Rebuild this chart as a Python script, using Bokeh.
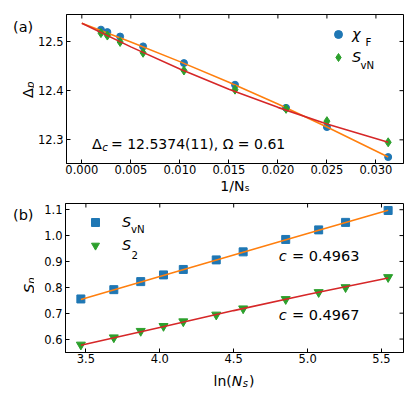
import numpy as np
from bokeh.plotting import figure
from bokeh.models import Range1d, FixedTicker, Label, Legend, LegendItem
from bokeh.layouts import column, row
from bokeh.embed import file_html
from bokeh.resources import INLINE

BLUE = "#1f77b4"
ORANGE = "#ff7f0e"
GREEN = "#2ca02c"
RED = "#d62728"
FONT = "DejaVu Sans"

# ---------------- panel (a) data ----------------
a_inv_Ns = [0.001953, 0.002604, 0.003906, 0.00625, 0.010417, 0.015625, 0.020833, 0.025, 0.03125]
a_chiF = [12.524, 12.519, 12.510, 12.490, 12.456, 12.412, 12.365, 12.326, 12.265]
a_SvN = [12.517, 12.512, 12.499, 12.477, 12.441, 12.402, 12.363, 12.338, 12.295]
a_fit_x = [0.0, 0.005, 0.01, 0.015, 0.02, 0.025, 0.03125]
a_fit_chiF = [12.537, 12.499, 12.459, 12.417, 12.373, 12.326, 12.265]
a_fit_SvN = [12.537, 12.489, 12.444, 12.403, 12.366, 12.332, 12.295]
a_xticks = [0.0, 0.005, 0.01, 0.015, 0.02, 0.025, 0.03]
a_xtick_labels = ["0.000", "0.005", "0.010", "0.015", "0.020", "0.025", "0.030"]
a_yticks = [12.3, 12.4, 12.5]
a_ytick_labels = ["12.3", "12.4", "12.5"]

# ---------------- panel (b) data ----------------
b_lnNs = [3.466, 3.689, 3.871, 4.025, 4.159, 4.382, 4.564, 4.852, 5.075, 5.257, 5.545]
b_SvN = [0.755, 0.791, 0.822, 0.848, 0.869, 0.906, 0.937, 0.985, 1.022, 1.051, 1.097]
b_S2 = [0.578, 0.606, 0.631, 0.650, 0.668, 0.694, 0.718, 0.754, 0.781, 0.800, 0.839]
b_fit_x = [3.466, 4.0, 4.5, 5.0, 5.545]
b_fit_SvN = [0.753, 0.842, 0.925, 1.008, 1.098]
b_fit_S2 = [0.576, 0.645, 0.710, 0.772, 0.836]
b_xticks = [3.5, 4.0, 4.5, 5.0, 5.5]
b_xtick_labels = ["3.5", "4.0", "4.5", "5.0", "5.5"]
b_yticks = [0.6, 0.7, 0.8, 0.9, 1.0, 1.1]
b_ytick_labels = ["0.6", "0.7", "0.8", "0.9", "1.0", "1.1"]

# axis ranges
A_XR = (-0.0015625, 0.0328125)
A_YR = (12.2519, 12.5548)
B_XR = (3.362, 5.649)
B_YR = (0.548, 1.124)

ROT = np.pi / 2
LEFT_W = 34
TOTAL_W = 410


def make_fig(xr, yr, height, top, bottom, xticks, xlabels, yticks, ylabels):
    p = figure(width=TOTAL_W - LEFT_W, height=height, x_range=Range1d(*xr), y_range=Range1d(*yr),
               output_backend="svg", toolbar_location=None, title_location=None,
               min_border_left=65 - LEFT_W, min_border_right=7,
               min_border_top=top, min_border_bottom=bottom)
    p.xgrid.visible = False
    p.ygrid.visible = False
    p.outline_line_color = "black"
    p.outline_line_alpha = 1.0
    p.outline_line_width = 1
    p.background_fill_color = "white"
    p.border_fill_color = "white"
    for ax, ticks, labels in [(p.xaxis[0], xticks, xlabels), (p.yaxis[0], yticks, ylabels)]:
        ax.ticker = FixedTicker(ticks=ticks)
        ax.major_label_overrides = dict(zip(ticks, labels))
        ax.major_tick_in = 4
        ax.major_tick_out = 0
        ax.minor_tick_line_color = None
        ax.major_label_text_font = FONT
        ax.major_label_text_font_size = "11.5px"
        ax.major_label_text_color = "black"
        ax.axis_line_color = "black"
        ax.major_tick_line_color = "black"
    p.xaxis.major_label_standoff = 1
    p.yaxis.major_label_standoff = 3
    # inward ticks on the top and right edges of the frame
    p.ray(x=xticks, y=[yr[1]] * len(xticks), length=4, angle=-np.pi / 2,
          length_units="screen", line_color="black", line_width=1)
    p.ray(x=[xr[1]] * len(yticks), y=yticks, length=4, angle=np.pi,
          length_units="screen", line_color="black", line_width=1)
    return p


def make_strip(width, height, top=0, bottom=0):
    s = figure(width=width, height=height, x_range=Range1d(0, 1), y_range=Range1d(0, 1),
               output_backend="svg", toolbar_location=None, title_location=None,
               min_border=0, min_border_left=0, min_border_right=0,
               min_border_top=top, min_border_bottom=bottom,
               x_axis_location=None, y_axis_location=None)
    s.xgrid.visible = False
    s.ygrid.visible = False
    s.outline_line_color = None
    s.background_fill_color = "white"
    s.border_fill_color = "white"
    return s


def add_texts(p, left, bottom, specs):
    # specs give page-pixel positions; (left, bottom) is the page position of the frame's corner
    for spec in specs:
        text, px, py, size, style = spec[:5]
        angle = spec[5] if len(spec) > 5 else 0.0
        p.add_layout(Label(x=px - left, y=bottom - py, x_units="screen", y_units="screen",
                           text=text, text_font=FONT, text_font_size=f"{size}px",
                           text_font_style=style, text_color="black", angle=angle,
                           text_align="left", text_baseline="alphabetic"))


def make_legend(items, loc, standoff):
    return Legend(items=items, location=loc, padding=0, margin=0, spacing=3,
                  glyph_width=20, glyph_height=20, label_height=20, label_standoff=standoff,
                  label_text_font=FONT, label_text_font_size="14.5px",
                  label_text_font_style="italic", label_text_color="black",
                  background_fill_alpha=0, border_line_alpha=0)


# ---------------- panel (a): page rows 0..196, frame 14..163 ----------------
A_H, A_T, A_B = 196, 14, 33
pa = make_fig(A_XR, A_YR, A_H, A_T, A_B, a_xticks, a_xtick_labels, a_yticks, a_ytick_labels)
pa.xaxis.axis_label = "1/Nₛ"
pa.xaxis.axis_label_text_font = FONT
pa.xaxis.axis_label_text_font_size = "14px"
pa.xaxis.axis_label_text_font_style = "normal"
pa.xaxis.axis_label_text_color = "black"
pa.xaxis.axis_label_standoff = 1
ra1 = pa.scatter(a_inv_Ns, a_chiF, marker="circle", size=7, color=BLUE)
pa.line(a_fit_x, a_fit_chiF, color=ORANGE, line_width=1.6)
ra2 = pa.scatter(a_inv_Ns, a_SvN, marker="diamond", size=9, color=GREEN)
pa.line(a_fit_x, a_fit_SvN, color=RED, line_width=1.6)
pa.add_layout(make_legend([LegendItem(label="χ", renderers=[ra1]),
                           LegendItem(label="S", renderers=[ra2])], (262, 96), 4))
add_texts(pa, 65, 163, [
    ("Δ", 90.5, 143.5, 14.5, "normal"),
    ("c", 100.8, 146.5, 10.2, "italic"),
    ("= 12.5374(11), Ω = 0.61", 109.5, 143.5, 14, "normal"),
    ("F", 364, 42, 10.2, "normal"),
    ("vN", 359, 65, 10.2, "normal"),
])
left_a = make_strip(LEFT_W, A_H, A_T, A_B)
add_texts(left_a, 0, 163, [
    ("(a)", 12.5, 26.5, 14.5, "normal"),
    ("Δ", 27, 97.5, 14.5, "normal", ROT),
    ("p", 30, 87.5, 10.2, "italic", ROT),
])

# ---------------- panel (b): page rows 196..367, frame 203..352 ----------------
B_TOP = 196
B_H = 171
B_T, B_B = 203 - B_TOP, B_TOP + B_H - 352
pb = make_fig(B_XR, B_YR, B_H, B_T, B_B, b_xticks, b_xtick_labels, b_yticks, b_ytick_labels)
rb1 = pb.scatter(b_lnNs, b_SvN, marker="square", size=8, color=BLUE)
pb.line(b_fit_x, b_fit_SvN, color=ORANGE, line_width=1.6)
rb2 = pb.scatter(b_lnNs, b_S2, marker="inverted_triangle", size=9, color=GREEN)
pb.line(b_fit_x, b_fit_S2, color=RED, line_width=1.6)
pb.add_layout(make_legend([LegendItem(label="S", renderers=[rb1]),
                           LegendItem(label="S", renderers=[rb2])], (20, 97), 17))
add_texts(pb, 65, 352, [
    ("vN", 130.5, 228.5, 10.2, "normal"),
    ("2", 131, 254, 10.2, "normal"),
    ("c", 278.3, 255, 14.5, "italic"),
    ("= 0.4963", 291.5, 255, 14.5, "normal"),
    ("c", 278.3, 314, 14.5, "italic"),
    ("= 0.4967", 291.5, 314, 14.5, "normal"),
])
left_b = make_strip(LEFT_W, B_H, B_T, B_B)
add_texts(left_b, 0, 352, [
    ("(b)", 12.5, 214.5, 14.5, "normal"),
    ("S", 28, 292.5, 14.5, "italic", ROT),
    ("n", 31, 283.3, 10.2, "italic", ROT),
])
XB_TOP = B_TOP + B_H
XB_H = 394 - XB_TOP
xlab_b = make_strip(TOTAL_W, XB_H)
add_texts(xlab_b, 0, 394, [
    ("ln(", 213, 380, 14, "normal"),
    ("N", 231.2, 380, 14, "italic"),
    ("s", 242.2, 382.5, 10, "italic"),
    (")", 248.5, 380, 14, "normal"),
])

layout = column(row(left_a, pa), row(left_b, pb), xlab_b)
open("out.html", "w").write(file_html(layout, INLINE))
